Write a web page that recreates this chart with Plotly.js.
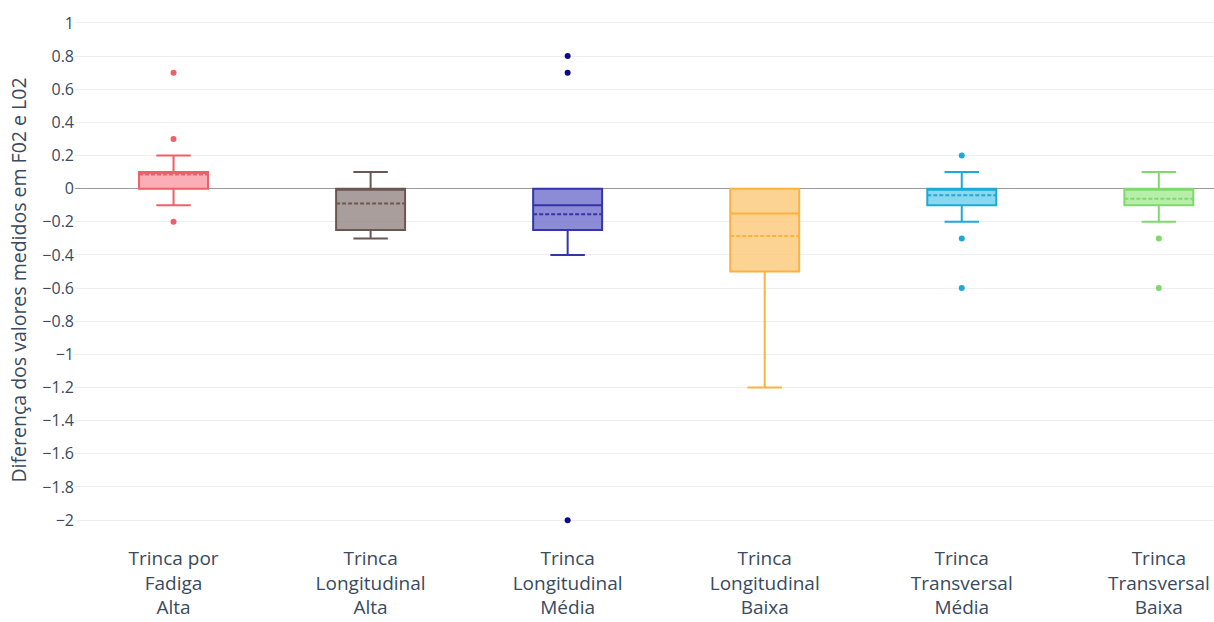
<!DOCTYPE html>
<html>
<head>
<meta charset="utf-8">
<script src="https://cdn.plot.ly/plotly-3.0.1.min.js"></script>
<style>html,body{margin:0;padding:0;background:#fff;}#chart{width:1214px;height:622px;}</style>
</head>
<body>
<div id="chart"></div>
<script>
const categories = ["Trinca por<br>Fadiga<br>Alta", "Trinca<br>Longitudinal<br>Alta", "Trinca<br>Longitudinal<br>Média", "Trinca<br>Longitudinal<br>Baixa", "Trinca<br>Transversal<br>Média", "Trinca<br>Transversal<br>Baixa"];
const q1Values = [0, -0.25, -0.25, -0.5, -0.1, -0.1];
const medianValues = [0.1, 0, -0.1, -0.15, 0, 0];
const q3Values = [0.1, 0, 0, 0, 0, 0];
const lowerFences = [-0.1, -0.3, -0.4, -1.2, -0.2, -0.2];
const upperFences = [0.2, 0.1, 0, 0, 0.1, 0.1];
const meanValues = [0.085, -0.09, -0.155, -0.285, -0.04, -0.06];
const outliers = [[0.7, 0.3, -0.2], [], [0.8, 0.7, -2], [], [0.2, -0.3, -0.6], [-0.3, -0.6]];
const lineColors = ["#EF5F6B", "#6B5751", "#3535A8", "#FDB23F", "#1DAAD6", "#7FD96D"];
const fillColors = ["rgba(250,160,166,0.85)", "rgba(140,126,122,0.75)", "rgba(110,110,205,0.8)", "rgba(253,200,120,0.8)", "rgba(110,205,235,0.8)", "rgba(170,235,155,0.85)"];
const pointColors = ["#EF5F6B", "#6B5751", "#0A0A8A", "#FDB23F", "#1DAAD6", "#7FD96D"];

const traces = [];
categories.forEach((c, i) => {
  traces.push({
    type: 'box',
    x: [c],
    q1: [q1Values[i]], median: [medianValues[i]], q3: [q3Values[i]],
    lowerfence: [lowerFences[i]], upperfence: [upperFences[i]], mean: [meanValues[i]],
    boxmean: true,
    boxpoints: false,
    line: {color: lineColors[i], width: 2},
    fillcolor: fillColors[i],
    whiskerwidth: 0.5,
    showlegend: false,
    hoverinfo: 'skip'
  });
  if (outliers[i].length) {
    traces.push({
      type: 'scatter', mode: 'markers',
      x: outliers[i].map(() => c), y: outliers[i],
      marker: {color: pointColors[i], size: 6},
      showlegend: false, hoverinfo: 'skip'
    });
  }
});

const layout = {
  width: 1214, height: 622,
  margin: {l: 75, r: 0, t: 15, b: 77},
  paper_bgcolor: '#fff', plot_bgcolor: '#fff',
  font: {family: '"Open Sans", sans-serif', color: '#2a3f5f'},
  boxmode: 'overlay',
  boxgap: 0.5,
  xaxis: {
    type: 'category',
    categoryorder: 'array', categoryarray: categories,
    range: [-0.5, 5.28],
    showgrid: false, zeroline: false,
    tickfont: {size: 19, color: '#3a4a60'}
  },
  yaxis: {
    range: [-2.15, 1.048],
    dtick: 0.2, tick0: 0,
    gridcolor: '#EEEEEE', gridwidth: 1,
    zeroline: true, zerolinecolor: '#9A9A9A', zerolinewidth: 1,
    tickfont: {size: 16, color: '#3a4a60'},
    title: {text: 'Diferença dos valores medidos em F02 e L02', font: {size: 19.5, color: '#3a4a60'}}
  }
};

Plotly.newPlot('chart', traces, layout, {displayModeBar: false, staticPlot: true});
</script>
</body>
</html>
